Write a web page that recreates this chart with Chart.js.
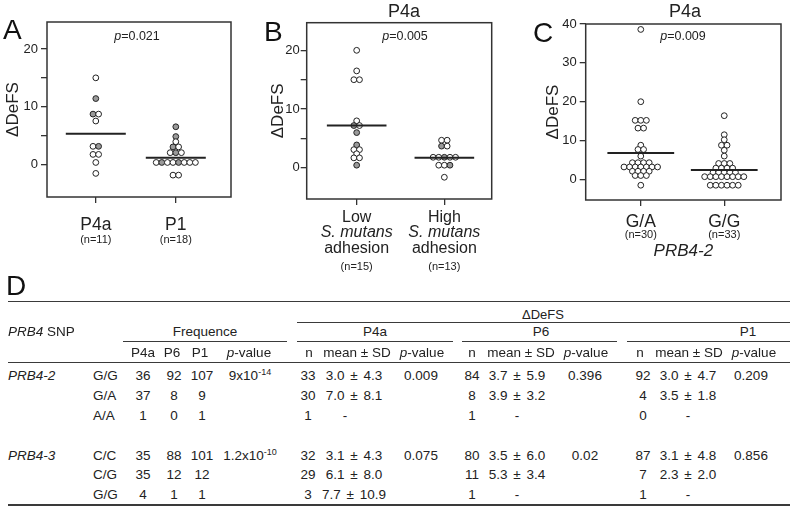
<!DOCTYPE html>
<html>
<head>
<meta charset="utf-8">
<script src="https://cdn.jsdelivr.net/npm/chart.js@4.4.0/dist/chart.umd.min.js"></script>
<style>
html,body{margin:0;padding:0;background:#fff;}
body{width:790px;height:506px;position:relative;overflow:hidden;font-family:"Liberation Sans",Arial,Helvetica,sans-serif;color:#222;}
.abs{position:absolute;white-space:nowrap;}
canvas{position:absolute;top:0;}
</style>
</head>
<body>
<canvas id="cA" width="260" height="290" style="left:0px;width:260px;height:290px"></canvas>
<canvas id="cB" width="260" height="290" style="left:260px;width:260px;height:290px"></canvas>
<canvas id="cC" width="270" height="290" style="left:520px;width:270px;height:290px"></canvas>
<script>
// ================= DATA =================
// Panel A
const aCategories = ["P4a", "P1"];
const aCounts = ["(n=11)", "(n=18)"];
const aValuesP4a = [15.0, 11.4, 8.7, 8.7, 7.5, 3.1, 3.1, 1.7, 1.7, 0.3, -1.6];
const aGreyP4a   = [0, 1, 1, 0, 0, 0, 1, 0, 0, 0, 0];
const aValuesP1  = [6.5, 4.8, 3.9, 3.0, 3.0, 2.0, 2.0, 2.0, 0.3, 0.3, 0.3, 0.3, 0.3, 0.3, 0.3, 0.3, -1.9, -1.9];
const aGreyP1    = [1, 1, 0, 1, 0, 0, 1, 0, 0, 1, 0, 0, 1, 0, 0, 0, 0, 0];
const aMeans = [5.3, 1.1];
const aPValue = "0.021";
const abYTicks = [0, 5, 10, 15, 20];
const abYLabels = [0, 10, 20];

// Panel B
const bTitle = "P4a";
const bCategories = [["Low", "S. mutans", "adhesion"], ["High", "S. mutans", "adhesion"]];
const bCounts = ["(n=15)", "(n=13)"];
const bValuesLow  = [20.0, 16.5, 15.0, 15.0, 8.0, 7.2, 7.2, 6.0, 3.9, 3.1, 3.1, 2.4, 1.7, 1.7, 0.45];
const bGreyLow    = [0, 0, 0, 0, 0, 1, 0, 1, 1, 0, 0, 0, 0, 0, 1];
const bValuesHigh = [4.7, 4.7, 3.7, 3.7, 1.8, 1.8, 1.8, 1.8, 1.8, 0.45, 0.45, 0.45, -1.6];
const bGreyHigh   = [0, 0, 1, 0, 0, 0, 1, 0, 0, 0, 0, 1, 0];
const bMeans = [7.2, 1.7];
const bPValue = "0.005";

// Panel C
const cTitle = "P4a";
const cCategories = ["G/A", "G/G"];
const cCounts = ["(n=30)", "(n=33)"];
const cAxisTitle = "PRB4-2";
const cValuesGA = [38.6, 20.0, 15.2, 15.2, 15.2, 13.2, 13.2, 8.8, 7.7, 7.7, 6.0,
  4.3, 4.3, 4.3, 4.3, 3.2, 3.2, 3.2, 3.2, 3.2, 3.2, 3.2, 2.1, 2.1, 2.1, 2.1, 1.0, 1.0, 1.0, -1.5];
const cValuesGG = [16.4, 11.5, 10.2, 8.8, 8.8, 7.5, 6.0, 4.1, 4.1, 4.1, 2.9, 2.9, 2.9, 2.9,
  1.8, 1.8, 1.8, 1.8, 1.8, 0.7, 0.7, 0.7, 0.7, 0.7, 0.7, 0.7, 0.7, -1.5, -1.5, -1.5, -1.5, -1.5, -1.5];
const cMeans = [6.8, 2.4];
const cPValue = "0.009";
const cYTicks = [0, 10, 20, 30, 40];

// Table D
const tableSnps = ["PRB4-2", "PRB4-3"];
const tableGenotypes = [["G/G", "G/A", "A/A"], ["C/C", "C/G", "G/G"]];
const freqP4a = [[36, 37, 1], [35, 35, 4]];
const freqP6  = [[92, 8, 0], [88, 12, 1]];
const freqP1  = [[107, 9, 1], [101, 12, 1]];
const freqPBase = ["9x10", "1.2x10"];
const freqPExp  = ["-14", "-10"];
const p4aN    = [[33, 30, 1], [32, 29, 3]];
const p4aMean = [["3.0 ± 4.3", "7.0 ± 8.1", "-"], ["3.1 ± 4.3", "6.1 ± 8.0", "7.7 ± 10.9"]];
const p4aP    = ["0.009", "0.075"];
const p6N     = [[84, 8, 1], [80, 11, 1]];
const p6Mean  = [["3.7 ± 5.9", "3.9 ± 3.2", "-"], ["3.5 ± 6.0", "5.3 ± 3.4", "-"]];
const p6P     = ["0.396", "0.02"];
const p1N     = [[92, 4, 0], [87, 7, 1]];
const p1Mean  = [["3.0 ± 4.7", "3.5 ± 1.8", "-"], ["3.1 ± 4.8", "2.3 ± 2.0", "-"]];
const p1P     = ["0.209", "0.856"];

// ================= RENDER =================
const FONT = '"Liberation Sans", Arial, Helvetica, sans-serif';
const INK = '#222';
const GREY = '#9a9a9a';

function swarm(values, cat, dx) {
  const rows = new Map();
  values.forEach((v, i) => { if (!rows.has(v)) rows.set(v, []); rows.get(v).push(i); });
  const pts = new Array(values.length);
  rows.forEach((idx, v) => {
    const k = idx.length;
    idx.forEach((i, j) => { pts[i] = {x: cat + (j - (k - 1) / 2) * dx, y: v}; });
  });
  return pts;
}

const boxPlugin = {
  id: 'frameBox',
  afterDraw(chart) {
    const {ctx, chartArea: a} = chart;
    ctx.save();
    ctx.strokeStyle = '#333';
    ctx.lineWidth = 1.5;
    ctx.strokeRect(a.left, a.top, a.right - a.left, a.bottom - a.top);
    ctx.restore();
  }
};

const catPlugin = {
  id: 'catLabels',
  afterDraw(chart, args, opts) {
    const ctx = chart.ctx, xs = chart.scales.x;
    ctx.save();
    ctx.fillStyle = INK;
    ctx.textAlign = 'center';
    ctx.textBaseline = 'alphabetic';
    (opts.groups || []).forEach((lines, i) => {
      const px = xs.getPixelForValue(i + 1);
      lines.forEach(l => {
        ctx.font = (l.italic ? 'italic ' : '') + l.size + 'px ' + FONT;
        ctx.fillText(l.text, px, l.y);
      });
    });
    ctx.restore();
  }
};

function makePanel(id, p) {
  const datasets = [];
  p.groups.forEach((g, gi) => {
    const cat = gi + 1;
    datasets.push({
      type: 'line',
      data: [{x: cat - p.half, y: p.means[gi]}, {x: cat + p.half, y: p.means[gi]}],
      borderColor: INK, borderWidth: 2, pointRadius: 0, fill: false, order: 0
    });
    datasets.push({
      type: 'scatter',
      data: swarm(g.values, cat, p.dx),
      pointRadius: 2.9,
      pointBackgroundColor: g.values.map((v, i) => (g.grey && g.grey[i]) ? GREY : '#ffffff'),
      pointBorderColor: '#222',
      pointBorderWidth: 1,
      order: 1
    });
  });
  new Chart(document.getElementById(id), {
    type: 'scatter',
    data: {datasets},
    options: {
      responsive: false,
      animation: false,
      events: [],
      layout: {padding: p.pad},
      plugins: {
        legend: {display: false},
        tooltip: {enabled: false},
        catLabels: {groups: p.labels}
      },
      scales: {
        x: {
          type: 'linear', min: p.xmin, max: p.xmax,
          afterBuildTicks: s => { s.ticks = [{value: 1}, {value: 2}]; },
          afterFit: s => { s.height = p.xh; },
          ticks: {display: false},
          grid: {drawOnChartArea: false, drawTicks: true, tickLength: 6, color: '#333', lineWidth: 1.3},
          border: {display: false},
          title: p.xTitle ? {display: true, text: p.xTitle, color: INK,
            font: {family: FONT, size: 17, style: 'italic'}, padding: {top: 0, bottom: p.xTitlePad}} : {display: false}
        },
        y: {
          type: 'linear', min: p.ymin, max: p.ymax,
          afterBuildTicks: s => { s.ticks = p.yticks.map(v => ({value: v})); },
          afterFit: s => { s.width = p.yw; },
          ticks: {
            autoSkip: false,
            callback: v => p.ylabels.includes(v) ? String(v) : '',
            font: {family: FONT, size: 13}, color: INK, padding: p.tickPad
          },
          grid: {drawOnChartArea: false, drawTicks: true, tickLength: 6, color: '#333', lineWidth: 1.3},
          border: {display: false},
          title: {display: true, text: 'ΔDeFS', color: INK, font: {family: FONT, size: 17}, padding: 0}
        }
      }
    },
    plugins: [boxPlugin, catPlugin]
  });
}

const S = 5.6; // marker spacing in px
makePanel('cA', {
  groups: [{values: aValuesP4a, grey: aGreyP4a}, {values: aValuesP1, grey: aGreyP1}],
  means: aMeans, half: 0.375, dx: S / 80,
  xmin: 0.39, xmax: 2.69, ymin: -5.7, ymax: 24.7,
  yticks: abYTicks, ylabels: abYLabels, tickPad: 3,
  pad: {left: 2.8, right: 29, top: 22, bottom: 0}, yw: 44.2, xh: 93,
  labels: aCategories.map((c, i) => [
    {text: c, size: 17.5, y: 230},
    {text: aCounts[i], size: 11, y: 243}
  ])
});
makePanel('cB', {
  groups: [{values: bValuesLow, grey: bGreyLow}, {values: bValuesHigh, grey: bGreyHigh}],
  means: bMeans, half: 0.34, dx: S / 87.6,
  xmin: 0.43, xmax: 2.54, ymin: -5.3, ymax: 24.7,
  yticks: abYTicks, ylabels: abYLabels, tickPad: 1,
  pad: {left: 8.3, right: 28.3, top: 22.7, bottom: 0}, yw: 38.4, xh: 91,
  labels: bCategories.map((c, i) => [
    {text: c[0], size: 16, y: 222},
    {text: c[1], size: 16, y: 237, italic: true},
    {text: c[2], size: 16, y: 253},
    {text: bCounts[i], size: 11, y: 270}
  ])
});
makePanel('cC', {
  groups: [{values: cValuesGA}, {values: cValuesGG}],
  means: cMeans, half: 0.40, dx: S / 83.5,
  xmin: 0.34, xmax: 2.68, ymin: -5.3, ymax: 40,
  yticks: cYTicks, ylabels: cYTicks, tickPad: 3,
  pad: {left: 22.8, right: 9, top: 24, bottom: 0}, yw: 42.9, xh: 90,
  xTitle: cAxisTitle, xTitlePad: 28.8,
  labels: cCategories.map((c, i) => [
    {text: c, size: 17.5, y: 227},
    {text: cCounts[i], size: 11, y: 238}
  ])
});

// ---- HTML text helpers
function txt(html, x, base, fs, align, opts) {
  opts = opts || {};
  const d = document.createElement('div');
  d.className = 'abs';
  d.innerHTML = html;
  d.style.fontSize = fs + 'px';
  d.style.lineHeight = fs + 'px';
  d.style.top = (base - 0.8465 * fs) + 'px';
  d.style.left = x + 'px';
  if (align === 'center') d.style.transform = 'translateX(-50%)';
  else if (align === 'right') d.style.transform = 'translateX(-100%)';
  if (opts.italic) d.style.fontStyle = 'italic';
  if (opts.ws) d.style.wordSpacing = opts.ws + 'px';
  if (opts.color) d.style.color = opts.color;
  document.body.appendChild(d);
}
function hline(x1, x2, y, w) {
  const d = document.createElement('div');
  d.className = 'abs';
  d.style.left = x1 + 'px';
  d.style.top = (y - w / 2) + 'px';
  d.style.width = (x2 - x1) + 'px';
  d.style.height = w + 'px';
  d.style.background = '#3a3a3a';
  document.body.appendChild(d);
}

// panel letters, titles, p-values
txt('A', 3, 40, 28, 'left', {color: '#111'});
txt('B', 264, 42, 28, 'left', {color: '#111'});
txt('C', 533, 43, 28, 'left', {color: '#111'});
txt('D', 6, 296, 28, 'left', {color: '#111'});
txt(bTitle, 404, 17.5, 18, 'center');
txt(cTitle, 685, 17.5, 18, 'center');
txt('<i>p</i>=' + aPValue, 137, 41, 12.5, 'center');
txt('<i>p</i>=' + bPValue, 405, 41, 12.5, 'center');
txt('<i>p</i>=' + cPValue, 683, 41, 12.5, 'center');

// ---- Table D
const FS = 13.5;
const b = c => c + 0.358 * FS;
hline(8, 790, 301.7, 1.4);
hline(297, 790, 322, 1);
hline(123, 287, 341.7, 1);
hline(297, 453, 341.7, 1);
hline(462, 617, 341.7, 1);
hline(627, 790, 341.7, 1);
hline(8, 790, 362.7, 1.4);
hline(8, 790, 505, 1.4);

txt('ΔDeFS', 543, b(314), 13, 'center');
txt('<i>PRB4</i> SNP', 8, b(332), FS, 'left');
txt('Frequence', 205, b(332), FS, 'center');
txt('P4a', 375, b(332), FS, 'center');
txt('P6', 541, b(332), FS, 'center');
txt('P1', 748, b(332), FS, 'center');

const subY = b(353);
txt('P4a', 143, subY, FS, 'center');
txt('P6', 172, subY, FS, 'center');
txt('P1', 200, subY, FS, 'center');
txt('<i>p</i>-value', 249, subY, FS, 'center');
[[309, 357, 422], [472, 521, 586], [640, 689, 754]].forEach(c => {
  txt('n', c[0], subY, FS, 'center');
  txt('mean ± SD', c[1], subY, FS, 'center');
  txt('<i>p</i>-value', c[2], subY, FS, 'center');
});

const rowCenters = [[375.7, 396, 416], [455.7, 475, 495]];
tableSnps.forEach((snp, s) => {
  const rc = rowCenters[s];
  txt(snp, 8, b(rc[0]), FS, 'left', {italic: true});
  txt(freqPBase[s] + '<span style="position:relative;top:-5px;font-size:9px">' + freqPExp[s] + '</span>', 250, b(rc[0]), FS, 'center');
  txt(p4aP[s], 421, b(rc[0]), FS, 'center');
  txt(p6P[s], 585, b(rc[0]), FS, 'center');
  txt(p1P[s], 751, b(rc[0]), FS, 'center');
  tableGenotypes[s].forEach((g, r) => {
    const y = b(rc[r]);
    txt(g, 93, y, FS, 'left');
    txt(String(freqP4a[s][r]), 143, y, FS, 'center');
    txt(String(freqP6[s][r]), 174, y, FS, 'center');
    txt(String(freqP1[s][r]), 202, y, FS, 'center');
    txt(String(p4aN[s][r]), 308, y, FS, 'center');
    txt(p4aMean[s][r], p4aMean[s][r] === '-' ? 345 : 354, y, FS, 'center', {ws: 2});
    txt(String(p6N[s][r]), 472, y, FS, 'center');
    txt(p6Mean[s][r], 517, y, FS, 'center', {ws: 2});
    txt(String(p1N[s][r]), 643, y, FS, 'center');
    txt(p1Mean[s][r], 688, y, FS, 'center', {ws: 2});
  });
});
</script>
</body>
</html>
